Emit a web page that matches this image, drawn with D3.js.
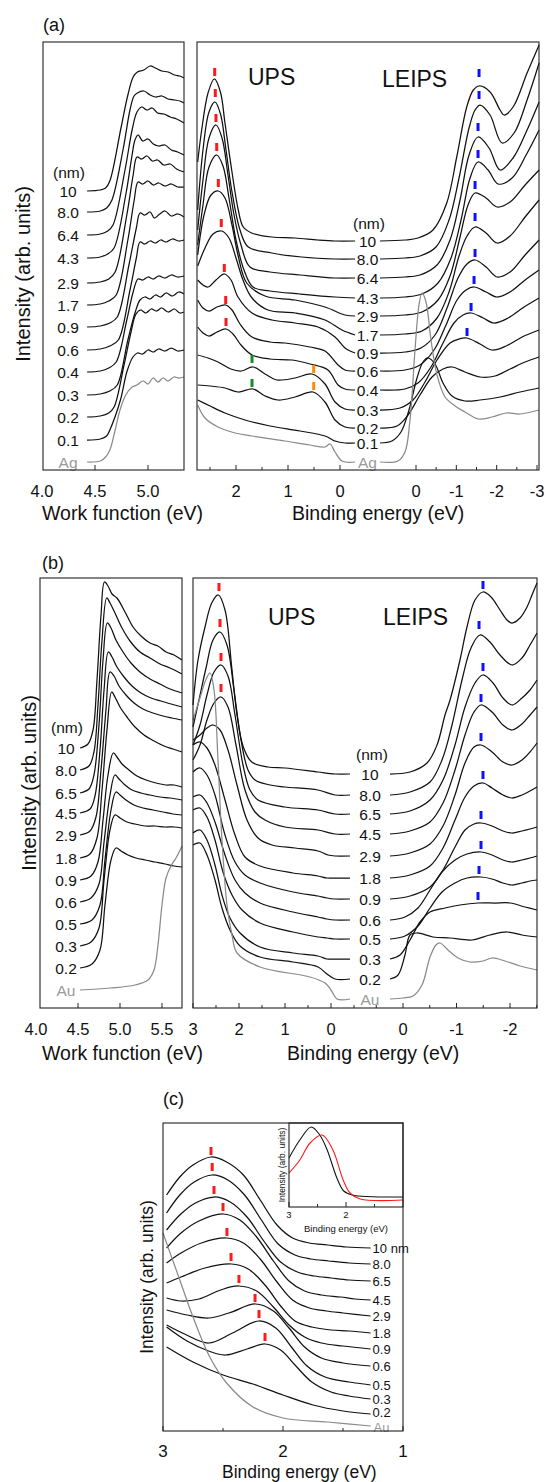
<!DOCTYPE html>
<html>
<head>
<meta charset="utf-8">
<script src="https://cdn.jsdelivr.net/npm/d3@7"></script>
<style>
body { margin: 0; background: #fff; }
text { font-family: "Liberation Sans", Arial, Helvetica, sans-serif; fill: #111; }
</style>
</head>
<body>
<svg id="fig" width="549" height="1482"></svg>
<script>
// ================= data =================
// film thickness labels (nm)
var aLabels = ["10", "8.0", "6.4", "4.3", "2.9", "1.7", "0.9", "0.6", "0.4", "0.3", "0.2", "0.1"];
var bLabels = ["10", "8.0", "6.5", "4.5", "2.9", "1.8", "0.9", "0.6", "0.5", "0.3", "0.2"];
var cLabels = ["10 nm", "8.0", "6.5", "4.5", "2.9", "1.8", "0.9", "0.6", "0.5", "0.3", "0.2"];

// (a) secondary cutoff, [work function eV, intensity]
var aWfCurves = [
  [[4.425,27.9],[4.55,28.0],[4.60,28.2],[4.64,28.9],[4.745,34.2],[4.81,37.5],[4.86,39.3],[4.90,39.8],[4.96,40.0],[5.02,40.4],[5.07,40.2],[5.13,39.9],[5.19,39.8],[5.25,39.5],[5.30,39.4],[5.34,39.2]],
  [[4.425,25.8],[4.55,25.9],[4.61,26.2],[4.66,27.0],[4.764,32.0],[4.83,36.0],[4.868,37.4],[4.90,37.7],[4.96,37.9],[5.02,37.5],[5.07,37.3],[5.13,37.4],[5.19,37.1],[5.25,37.0],[5.30,36.9],[5.34,36.7]],
  [[4.425,23.5],[4.55,23.6],[4.62,23.9],[4.67,24.5],[4.783,30.0],[4.85,34.0],[4.896,35.8],[4.94,36.3],[4.99,36.0],[5.04,36.2],[5.09,35.7],[5.15,35.6],[5.21,35.3],[5.27,35.1],[5.34,34.7]],
  [[4.425,21.2],[4.55,21.3],[4.62,21.6],[4.68,22.2],[4.79,27.5],[4.85,31.5],[4.877,33.0],[4.906,33.5],[4.95,32.9],[5.00,33.1],[5.05,32.6],[5.10,32.4],[5.16,32.5],[5.22,32.0],[5.28,31.8],[5.34,31.5]],
  [[4.425,18.7],[4.55,18.8],[4.63,19.1],[4.69,19.8],[4.80,25.5],[4.86,29.5],[4.896,31.3],[4.94,31.1],[4.99,31.4],[5.04,30.9],[5.09,31.0],[5.15,30.5],[5.21,30.6],[5.27,30.1],[5.34,29.8]],
  [[4.425,16.5],[4.55,16.6],[4.63,16.9],[4.70,17.5],[4.81,23.0],[4.87,27.0],[4.906,28.8],[4.95,28.6],[5.00,28.9],[5.05,28.5],[5.10,28.7],[5.16,28.4],[5.22,28.6],[5.28,28.3],[5.34,28.3]],
  [[4.425,14.3],[4.55,14.4],[4.64,14.7],[4.71,15.3],[4.82,20.5],[4.89,24.2],[4.925,25.7],[4.97,25.5],[5.02,25.8],[5.06,25.2],[5.11,25.6],[5.16,25.9],[5.22,25.4],[5.28,25.6],[5.34,25.3]],
  [[4.425,12.0],[4.55,12.1],[4.64,12.4],[4.72,13.0],[4.83,18.0],[4.89,21.2],[4.925,22.8],[4.97,22.6],[5.02,22.9],[5.07,22.7],[5.12,23.0],[5.17,22.8],[5.23,23.1],[5.29,22.9],[5.34,23.0]],
  [[4.425,9.8],[4.55,9.9],[4.63,10.2],[4.70,10.8],[4.80,15.0],[4.86,17.8],[4.906,19.1],[4.95,19.0],[5.00,19.3],[5.05,19.1],[5.10,19.4],[5.16,19.2],[5.22,19.5],[5.28,19.3],[5.34,19.4]],
  [[4.425,7.5],[4.55,7.6],[4.64,7.9],[4.71,8.5],[4.81,13.0],[4.88,15.8],[4.925,17.0],[4.97,17.3],[5.02,17.1],[5.07,17.5],[5.12,17.3],[5.17,17.7],[5.23,17.4],[5.29,17.8],[5.34,17.6]],
  [[4.425,5.3],[4.55,5.4],[4.63,5.7],[4.68,6.3],[4.774,10.5],[4.84,13.8],[4.887,15.6],[4.93,16.0],[4.98,15.7],[5.03,16.1],[5.08,15.9],[5.13,16.2],[5.19,15.8],[5.25,16.1],[5.30,15.7],[5.34,15.8]],
  [[4.425,3.0],[4.55,3.1],[4.61,3.4],[4.64,4.0],[4.74,7.0],[4.80,9.8],[4.858,11.3],[4.90,11.7],[4.95,11.6],[5.00,12.0],[5.05,11.8],[5.10,12.1],[5.16,11.9],[5.22,12.2],[5.28,11.9],[5.34,12.0]]
];
var aWfAg = [[4.425,0.8],[4.55,0.9],[4.60,1.3],[4.64,2.0],[4.69,4.0],[4.736,6.0],[4.79,7.5],[4.85,8.3],[4.896,8.5],[4.953,8.9],[5.0,8.6],[5.047,9.2],[5.094,8.8],[5.142,9.2],[5.189,8.9],[5.245,9.3],[5.292,9.2],[5.34,9.3]];

// (a) UPS, [binding energy eV, intensity]
var aUpsCurves = [
  [[2.737,30.8],[2.66,34.0],[2.538,37.7],[2.417,39.1],[2.30,37.8],[2.212,34.7],[2.083,30.0],[1.956,26.0],[1.86,24.3],[1.698,23.7],[1.313,23.3],[0.865,23.2],[0.423,23.0],[0.096,22.9],[-0.29,22.9]],
  [[2.737,26.0],[2.635,32.0],[2.519,35.8],[2.404,36.8],[2.298,35.6],[2.192,32.0],[2.083,28.0],[1.923,24.0],[1.763,22.3],[1.313,21.7],[0.737,21.3],[0.096,21.1],[-0.29,21.1]],
  [[2.737,24.0],[2.635,29.0],[2.519,33.2],[2.385,34.5],[2.269,33.2],[2.154,29.5],[2.038,25.5],[1.904,22.5],[1.731,20.3],[1.346,19.8],[0.769,19.5],[0.096,19.2],[-0.29,19.2]],
  [[2.737,22.5],[2.635,26.5],[2.519,30.3],[2.371,31.5],[2.25,30.4],[2.135,27.2],[2.0,23.0],[1.846,20.0],[1.673,18.3],[1.346,17.9],[0.769,17.6],[0.096,17.3],[-0.29,17.2]],
  [[2.737,21.5],[2.615,25.5],[2.481,27.5],[2.34,27.9],[2.212,27.2],[2.077,24.5],[1.962,21.5],[1.794,18.7],[1.442,17.4],[0.865,17.0],[0.288,16.3],[-0.096,15.5],[-0.29,15.4]],
  [[2.737,20.4],[2.596,22.2],[2.442,23.6],[2.275,23.9],[2.135,23.2],[2.0,21.2],[1.865,19.0],[1.692,17.2],[1.385,16.0],[0.865,15.7],[0.288,15.0],[-0.038,14.0],[-0.29,13.5]],
  [[2.737,19.0],[2.635,18.5],[2.538,18.3],[2.385,19.0],[2.221,19.6],[2.096,19.0],[1.962,17.3],[1.692,15.7],[1.308,15.0],[0.865,14.7],[0.423,14.3],[0.096,13.3],[-0.096,12.2],[-0.29,11.7]],
  [[2.737,17.0],[2.635,16.2],[2.519,15.9],[2.365,16.3],[2.198,16.5],[2.077,16.0],[1.923,14.6],[1.692,13.3],[1.346,12.8],[1.058,12.7],[0.577,12.3],[0.288,11.9],[0.038,10.5],[-0.096,10.0],[-0.29,9.9]],
  [[2.737,14.3],[2.635,13.7],[2.519,13.4],[2.365,13.8],[2.192,14.1],[2.058,13.6],[1.904,12.5],[1.692,11.5],[1.346,11.1],[0.923,11.0],[0.577,10.6],[0.231,10.0],[0.038,8.5],[-0.096,8.1],[-0.29,8.0]],
  [[2.737,11.5],[2.538,11.2],[2.346,10.8],[2.10,10.1],[1.90,9.9],[1.673,10.3],[1.442,9.6],[1.212,9.0],[0.865,9.2],[0.538,9.6],[0.288,8.6],[0.096,6.8],[-0.096,6.1],[-0.29,6.0]],
  [[2.737,8.5],[2.50,8.4],[2.212,8.2],[1.96,7.8],[1.673,8.1],[1.442,7.4],[1.192,7.0],[0.865,7.3],[0.519,7.8],[0.288,6.8],[0.096,5.0],[-0.096,4.3],[-0.29,4.2]],
  [[2.737,7.0],[2.50,6.4],[2.212,5.7],[1.827,5.0],[1.346,4.4],[0.769,3.9],[0.288,3.4],[0.096,2.9],[-0.096,2.7],[-0.29,2.7]]
];
var aUpsAg = [[2.737,6.5],[2.596,5.2],[2.346,4.3],[2.019,3.7],[1.692,3.4],[1.058,2.9],[0.577,2.5],[0.288,2.3],[0.192,2.6],[0.096,1.8],[-0.038,0.9],[-0.29,0.8]];
var aRedE = [2.41, 2.398, 2.385, 2.371, 2.34, 2.283, 2.225, 2.198, 2.192];
var aRedI = [39.8, 37.7, 35.2, 32.3, 28.7, 24.7, 20.2, 17.0, 14.8];
var aGreenE = [1.692, 1.692], aGreenI = [11.1, 8.7];
var aOrangeE = [0.506, 0.506], aOrangeI = [10.1, 8.4];

// (a) LEIPS
var aLeiCurves = [
  [[0.893,22.9],[0.273,23.0],[-0.05,23.2],[-0.422,24.0],[-0.762,26.7],[-1.01,31.3],[-1.258,36.3],[-1.422,38.0],[-1.571,38.4],[-1.836,37.8],[-2.084,36.0],[-2.184,35.5],[-2.407,36.3],[-2.754,39.7],[-3.052,42.5]],
  [[0.893,21.1],[0.273,21.2],[-0.099,21.4],[-0.496,22.3],[-0.819,25.0],[-1.067,29.2],[-1.315,34.2],[-1.464,36.0],[-1.588,36.5],[-1.836,35.5],[-2.134,32.7],[-2.432,33.7],[-2.754,37.0],[-3.052,40.7]],
  [[0.893,19.2],[0.273,19.3],[-0.099,19.5],[-0.521,20.5],[-0.844,23.0],[-1.092,27.0],[-1.315,31.5],[-1.538,33.3],[-1.811,32.2],[-2.084,30.0],[-2.407,31.2],[-2.754,34.0],[-3.052,36.8]],
  [[0.893,17.2],[0.273,17.3],[-0.149,17.6],[-0.546,18.7],[-0.868,21.2],[-1.117,25.0],[-1.34,29.2],[-1.538,30.8],[-1.787,30.0],[-2.035,28.6],[-2.382,29.2],[-2.73,31.5],[-3.052,34.0]],
  [[0.893,15.4],[0.273,15.5],[-0.149,15.8],[-0.546,17.0],[-0.844,19.4],[-1.092,23.3],[-1.29,26.5],[-1.464,27.7],[-1.737,27.2],[-2.01,26.3],[-2.333,26.8],[-2.705,28.5],[-3.052,30.0]],
  [[0.893,13.5],[0.273,13.6],[-0.149,13.9],[-0.521,15.2],[-0.819,17.8],[-1.067,21.4],[-1.265,23.4],[-1.464,24.3],[-1.737,23.7],[-2.01,22.7],[-2.333,23.4],[-2.705,25.3],[-3.052,27.0]],
  [[0.893,11.7],[0.273,11.8],[-0.124,12.2],[-0.471,13.5],[-0.769,16.2],[-1.042,19.2],[-1.265,20.6],[-1.464,21.0],[-1.737,20.3],[-2.01,19.3],[-2.333,19.8],[-2.705,21.5],[-3.052,23.0]],
  [[0.893,9.9],[0.273,10.0],[-0.099,10.5],[-0.447,12.0],[-0.744,14.5],[-1.017,17.0],[-1.241,18.0],[-1.439,18.3],[-1.737,17.8],[-2.01,17.3],[-2.333,17.8],[-2.705,19.0],[-3.052,20.0]],
  [[0.893,8.0],[0.273,8.1],[-0.05,8.7],[-0.372,10.3],[-0.67,12.7],[-0.943,14.7],[-1.166,15.5],[-1.365,15.7],[-1.663,15.2],[-1.935,14.7],[-2.283,15.2],[-2.68,16.3],[-3.052,17.2]],
  [[0.893,6.0],[0.397,6.2],[0.074,7.0],[-0.223,8.8],[-0.521,11.0],[-0.844,12.7],[-1.067,13.1],[-1.265,13.2],[-1.588,12.6],[-1.886,12.0],[-2.233,12.4],[-2.63,13.3],[-3.052,14.0]],
  [[0.893,4.2],[0.471,4.4],[0.199,5.5],[-0.099,7.5],[-0.397,9.3],[-0.67,10.1],[-0.893,10.3],[-1.216,9.8],[-1.588,9.3],[-1.96,9.4],[-2.333,10.1],[-2.705,10.8],[-3.052,11.3]],
  [[0.893,2.7],[0.596,2.9],[0.372,3.8],[0.174,6.0],[-0.025,9.2],[-0.174,10.8],[-0.298,11.2],[-0.471,10.6],[-0.67,8.7],[-0.893,7.4],[-1.216,6.9],[-1.588,7.0],[-2.084,7.3],[-2.581,7.8],[-3.052,8.2]]
];
var aLeiAg = [[0.893,0.8],[0.447,0.9],[0.273,1.8],[0.149,5.0],[0.025,12.0],[-0.074,16.5],[-0.149,17.7],[-0.248,16.8],[-0.372,13.0],[-0.521,9.5],[-0.72,7.3],[-0.968,6.4],[-1.216,5.8],[-1.538,5.1],[-1.886,5.3],[-2.233,5.7],[-2.581,5.6],[-3.052,6.0]];
var aBlueE = [-1.563, -1.563, -1.538, -1.538, -1.464, -1.464, -1.464, -1.439, -1.365, -1.265];
var aBlueI = [39.7, 37.5, 34.3, 31.6, 28.5, 25.3, 21.7, 19.0, 16.3, 13.8];

// (b) secondary cutoff
var bWfCurves = [
  [[4.524,26.0],[4.619,26.4],[4.679,27.8],[4.726,32.8],[4.774,39.3],[4.815,42.6],[4.857,42.2],[4.905,41.4],[4.964,41.0],[5.06,39.6],[5.155,38.1],[5.25,37.2],[5.357,36.5],[5.452,36.2],[5.548,35.6],[5.643,35.3],[5.738,34.8]],
  [[4.524,23.8],[4.631,24.2],[4.69,25.6],[4.738,30.3],[4.786,36.8],[4.842,41.0],[4.881,40.5],[4.94,39.5],[5.024,38.0],[5.119,36.7],[5.238,35.6],[5.357,35.0],[5.476,34.4],[5.595,34.0],[5.738,33.4]],
  [[4.524,21.5],[4.631,21.9],[4.69,23.3],[4.75,28.3],[4.798,34.8],[4.849,38.5],[4.893,38.0],[4.952,36.8],[5.036,35.6],[5.131,34.5],[5.238,33.6],[5.357,32.9],[5.476,32.4],[5.595,31.9],[5.738,31.5]],
  [[4.524,19.5],[4.643,19.9],[4.702,21.2],[4.762,25.8],[4.81,31.8],[4.861,35.6],[4.905,35.1],[4.964,34.1],[5.048,33.1],[5.143,32.2],[5.25,31.5],[5.369,31.0],[5.488,30.7],[5.607,30.4],[5.738,30.1]],
  [[4.524,17.3],[4.643,17.7],[4.714,19.1],[4.774,23.8],[4.833,29.8],[4.881,33.6],[4.929,33.2],[4.988,32.2],[5.071,31.3],[5.167,30.5],[5.274,29.9],[5.393,29.5],[5.512,29.2],[5.619,29.0],[5.738,28.8]],
  [[4.524,15.0],[4.643,15.4],[4.726,17.0],[4.786,21.8],[4.845,27.8],[4.901,31.6],[4.94,31.1],[5.0,30.1],[5.083,29.1],[5.179,28.1],[5.286,27.3],[5.405,26.7],[5.524,26.2],[5.631,25.9],[5.738,25.6]],
  [[4.524,12.8],[4.655,13.2],[4.738,14.6],[4.798,18.8],[4.857,23.3],[4.92,25.5],[4.964,25.1],[5.024,24.4],[5.107,23.8],[5.202,23.2],[5.31,22.8],[5.429,22.5],[5.548,22.3],[5.643,22.3],[5.738,22.1]],
  [[4.524,10.6],[4.655,11.0],[4.75,12.4],[4.81,16.6],[4.881,21.3],[4.94,23.3],[4.988,22.9],[5.06,22.3],[5.143,21.8],[5.25,21.5],[5.357,21.3],[5.476,21.1],[5.595,21.0],[5.738,20.8]],
  [[4.524,8.4],[4.667,8.8],[4.762,10.3],[4.821,14.8],[4.893,19.8],[4.952,21.6],[5.0,21.3],[5.071,20.8],[5.167,20.3],[5.274,20.0],[5.393,19.8],[5.512,19.6],[5.631,19.4],[5.738,19.3]],
  [[4.524,6.2],[4.655,6.6],[4.75,8.0],[4.81,12.8],[4.881,17.8],[4.94,19.3],[5.0,19.0],[5.083,18.6],[5.179,18.4],[5.298,18.2],[5.417,18.2],[5.536,18.1],[5.643,18.1],[5.738,18.0]],
  [[4.524,4.0],[4.667,4.4],[4.762,5.8],[4.821,10.3],[4.893,14.8],[4.952,16.0],[5.012,15.7],[5.095,15.3],[5.19,15.0],[5.298,14.8],[5.417,14.6],[5.536,14.4],[5.643,14.2],[5.738,14.1]]
];
var bWfAu = [[4.524,1.8],[4.881,2.0],[5.179,2.3],[5.333,2.8],[5.405,3.8],[5.452,6.3],[5.5,10.3],[5.548,13.0],[5.607,14.2],[5.667,15.0],[5.738,16.2]];

// (b) UPS
var bUpsCurves = [
  [[3.0,30.3],[2.891,34.8],[2.739,38.1],[2.593,40.5],[2.45,41.3],[2.304,39.8],[2.159,34.1],[2.043,29.3],[1.906,26.1],[1.724,24.6],[1.37,24.1],[1.0,24.0],[0.283,23.6],[-0.087,23.4],[-0.413,23.4]],
  [[3.0,28.1],[2.87,30.8],[2.717,34.0],[2.565,36.8],[2.413,37.6],[2.261,36.3],[2.109,31.8],[1.957,26.8],[1.804,23.8],[1.652,22.8],[1.326,22.3],[1.0,22.1],[0.283,21.8],[-0.087,21.3],[-0.413,21.3]],
  [[3.0,26.3],[2.848,28.3],[2.696,31.3],[2.543,33.6],[2.391,34.3],[2.239,33.2],[2.087,29.3],[1.913,24.3],[1.761,21.8],[1.587,20.8],[1.0,20.1],[0.283,19.8],[-0.087,19.4],[-0.413,19.4]],
  [[3.0,24.8],[2.848,26.3],[2.696,28.8],[2.543,30.5],[2.391,31.1],[2.239,30.1],[2.065,26.3],[1.87,21.8],[1.652,19.6],[1.435,18.8],[1.0,18.1],[0.283,17.8],[-0.087,17.4],[-0.413,17.4]],
  [[3.0,26.8],[2.848,27.3],[2.696,28.0],[2.565,28.3],[2.413,27.8],[2.239,25.8],[2.043,22.3],[1.826,18.8],[1.587,17.0],[1.283,16.3],[0.783,16.0],[0.283,15.7],[0.065,15.3],[-0.087,15.2],[-0.413,15.2]],
  [[3.0,26.3],[2.848,26.6],[2.696,26.0],[2.522,24.3],[2.304,20.8],[2.087,17.3],[1.87,15.1],[1.543,14.2],[0.826,13.5],[0.283,13.2],[0.087,13.0],[-0.087,13.0],[-0.413,13.0]],
  [[3.0,23.6],[2.848,24.0],[2.696,23.3],[2.522,21.3],[2.304,17.3],[2.087,14.6],[1.87,13.3],[1.543,12.5],[0.826,11.6],[0.283,11.2],[0.087,11.0],[-0.087,10.9],[-0.413,10.9]],
  [[3.0,21.1],[2.848,21.3],[2.696,20.5],[2.522,18.6],[2.304,15.3],[2.087,12.8],[1.87,11.5],[1.543,10.5],[0.826,9.6],[0.283,9.1],[0.087,8.9],[-0.087,8.8],[-0.413,8.8]],
  [[3.0,19.8],[2.848,20.0],[2.696,19.1],[2.522,16.8],[2.348,13.6],[2.152,11.3],[1.935,9.8],[1.543,8.5],[0.826,7.6],[0.283,7.1],[0.087,7.0],[-0.087,6.9],[-0.413,6.9]],
  [[3.0,17.5],[2.848,17.8],[2.696,16.8],[2.522,14.3],[2.37,11.3],[2.196,9.0],[1.978,7.5],[1.543,6.1],[0.826,5.5],[0.283,5.2],[0.087,4.9],[-0.087,4.9],[-0.413,4.9]],
  [[3.0,16.3],[2.848,16.5],[2.696,15.3],[2.522,12.8],[2.37,10.0],[2.196,7.8],[1.978,6.2],[1.543,5.1],[0.826,4.6],[0.283,4.1],[0.087,3.4],[-0.087,2.9],[-0.413,2.9]]
];
var bUpsAu = [[3.0,28.8],[2.848,31.0],[2.739,32.6],[2.63,33.5],[2.543,31.8],[2.457,24.8],[2.37,16.8],[2.261,10.3],[2.152,7.3],[2.043,5.5],[1.543,4.1],[0.457,3.1],[0.13,2.5],[0,1.8],[-0.13,0.9],[-0.413,0.9]];
var bRedE = [2.435, 2.413, 2.391, 2.391];
var bRedI = [42.1, 38.5, 35.1, 32.0];

// (b) LEIPS
var bLeiCurves = [
  [[0.243,23.4],[-0.131,23.6],[-0.449,24.5],[-0.636,26.3],[-0.785,29.3],[-0.879,30.8],[-1.065,34.8],[-1.196,38.1],[-1.346,40.8],[-1.495,41.6],[-1.645,41.1],[-1.813,39.8],[-1.944,38.8],[-2.037,38.5],[-2.187,39.0],[-2.318,40.1],[-2.411,41.3],[-2.505,42.5]],
  [[0.243,21.3],[-0.131,21.6],[-0.505,22.6],[-0.729,24.8],[-0.916,28.3],[-1.103,32.8],[-1.271,36.0],[-1.439,37.3],[-1.626,36.6],[-1.813,35.3],[-2.037,34.3],[-2.224,35.0],[-2.374,36.3],[-2.505,37.5]],
  [[0.243,19.4],[-0.131,19.7],[-0.505,20.8],[-0.748,22.8],[-0.972,26.3],[-1.159,30.1],[-1.346,32.5],[-1.495,33.3],[-1.682,32.5],[-1.869,31.0],[-2.037,30.3],[-2.224,31.0],[-2.374,31.8],[-2.505,32.8]],
  [[0.243,17.4],[-0.131,17.7],[-0.505,18.6],[-0.748,20.5],[-0.972,23.8],[-1.159,27.3],[-1.327,29.6],[-1.458,30.3],[-1.664,29.6],[-1.869,28.3],[-2.037,27.8],[-2.224,28.4],[-2.374,29.3],[-2.505,30.1]],
  [[0.243,15.2],[-0.131,15.5],[-0.505,16.4],[-0.748,18.2],[-0.972,21.3],[-1.159,24.5],[-1.327,26.1],[-1.458,26.3],[-1.664,25.6],[-1.869,24.6],[-2.037,24.3],[-2.224,24.8],[-2.374,25.6],[-2.505,26.5]],
  [[0.243,13.0],[-0.131,13.3],[-0.505,14.2],[-0.748,16.0],[-0.972,18.8],[-1.159,21.1],[-1.327,22.2],[-1.495,22.5],[-1.664,22.0],[-1.869,21.3],[-2.037,21.0],[-2.224,21.3],[-2.374,21.7],[-2.505,22.1]],
  [[0.243,10.9],[-0.131,11.2],[-0.505,12.1],[-0.748,13.8],[-0.972,16.1],[-1.159,17.8],[-1.327,18.4],[-1.458,18.5],[-1.664,18.2],[-1.869,17.7],[-2.037,17.5],[-2.224,17.7],[-2.374,17.9],[-2.505,18.1]],
  [[0.243,8.8],[-0.037,9.1],[-0.28,10.0],[-0.505,11.8],[-0.729,13.6],[-0.972,14.8],[-1.196,15.4],[-1.458,15.6],[-1.664,15.3],[-1.869,14.8],[-2.037,14.6],[-2.224,14.8],[-2.374,15.0],[-2.505,15.2]],
  [[0.243,6.9],[-0.037,7.2],[-0.28,8.2],[-0.505,10.0],[-0.729,11.6],[-0.972,12.5],[-1.196,13.0],[-1.458,13.1],[-1.664,12.9],[-1.869,12.5],[-2.037,12.3],[-2.224,12.5],[-2.374,12.7],[-2.505,12.8]],
  [[0.243,4.9],[0.056,5.3],[-0.131,6.8],[-0.318,8.6],[-0.505,9.6],[-0.785,10.0],[-1.065,10.3],[-1.402,10.5],[-1.72,10.5],[-2.0,10.5],[-2.28,10.1],[-2.505,9.8]],
  [[0.243,2.9],[0.093,3.3],[-0.037,5.3],[-0.131,7.3],[-0.262,7.5],[-0.561,7.1],[-0.879,7.0],[-1.29,6.8],[-1.626,7.3],[-1.944,7.6],[-2.224,7.3],[-2.505,7.1]]
];
var bLeiAu = [[0.243,0.9],[0,1.0],[-0.187,1.2],[-0.355,2.3],[-0.505,5.1],[-0.617,6.3],[-0.692,6.5],[-0.841,5.8],[-1.028,5.0],[-1.252,4.6],[-1.495,4.7],[-1.664,5.0],[-1.907,4.7],[-2.187,4.2],[-2.505,3.8]];
var bBlueE = [-1.495, -1.421, -1.495, -1.458, -1.458, -1.495, -1.458, -1.458, -1.421, -1.402];
var bBlueI = [42.3, 38.3, 34.1, 31.0, 27.1, 23.3, 19.3, 16.3, 13.8, 11.2];

// (c) UPS on Au
var cCurves = [
  [[2.97,23.6],[2.86,25.4],[2.75,26.6],[2.60,27.4],[2.47,26.9],[2.33,25.6],[2.19,23.1],[2.05,20.6],[1.92,19.3],[1.78,18.8],[1.63,18.6],[1.47,18.4],[1.27,18.3]],
  [[2.97,21.8],[2.86,23.6],[2.74,24.9],[2.59,25.6],[2.46,25.1],[2.32,23.6],[2.18,21.1],[2.04,18.7],[1.90,17.6],[1.77,17.2],[1.62,17.0],[1.45,16.8],[1.27,16.7]],
  [[2.97,20.1],[2.86,21.6],[2.73,22.8],[2.575,23.4],[2.44,22.9],[2.30,21.4],[2.16,19.0],[2.02,16.9],[1.88,15.9],[1.74,15.5],[1.60,15.3],[1.45,15.1],[1.27,15.0]],
  [[2.97,18.3],[2.85,19.8],[2.70,21.0],[2.50,21.7],[2.36,21.1],[2.22,19.4],[2.08,17.0],[1.95,15.0],[1.82,14.0],[1.68,13.6],[1.52,13.4],[1.40,13.2],[1.27,13.1]],
  [[2.97,16.8],[2.85,17.8],[2.68,18.8],[2.47,19.3],[2.33,18.8],[2.19,17.2],[2.05,14.9],[1.92,13.1],[1.78,12.3],[1.64,12.0],[1.50,11.8],[1.27,11.5]],
  [[2.97,14.8],[2.85,15.4],[2.65,16.3],[2.43,16.7],[2.29,16.2],[2.15,14.6],[2.02,12.5],[1.90,11.0],[1.76,10.4],[1.60,10.1],[1.45,10.0],[1.27,9.8]],
  [[2.97,13.3],[2.85,13.0],[2.70,13.2],[2.52,14.1],[2.37,14.5],[2.22,14.0],[2.08,12.4],[1.95,10.6],[1.82,9.4],[1.68,8.8],[1.50,8.5],[1.27,8.2]],
  [[2.97,12.1],[2.80,11.6],[2.62,11.3],[2.45,11.8],[2.23,12.7],[2.08,12.0],[1.95,10.3],[1.82,8.4],[1.68,7.3],[1.50,6.8],[1.27,6.5]],
  [[2.97,10.6],[2.82,9.7],[2.62,8.8],[2.42,9.8],[2.20,11.0],[2.06,10.3],[1.93,8.4],[1.80,6.5],[1.65,5.4],[1.45,4.9],[1.27,4.6]],
  [[2.97,10.4],[2.80,9.0],[2.62,8.0],[2.48,7.6],[2.30,8.2],[2.15,8.7],[2.02,8.1],[1.90,6.6],[1.76,4.9],[1.60,3.9],[1.45,3.5],[1.27,3.2]],
  [[2.97,8.4],[2.75,6.9],[2.50,5.6],[2.25,4.7],[2.00,3.6],[1.75,2.6],[1.50,2.0],[1.27,1.7]]
];
var cAu = [[3.0,19.8],[2.86,15.1],[2.75,11.4],[2.61,7.4],[2.47,4.8],[2.25,2.4],[2.0,1.3],[1.63,0.9],[1.27,0.5]];
var cRedE = [2.60, 2.59, 2.575, 2.50, 2.467, 2.433, 2.367, 2.233, 2.20, 2.15];
var cRedI = [28.0, 26.4, 24.1, 22.4, 19.9, 17.4, 15.2, 13.3, 11.7, 9.4];
var insetBlack = [[3.0,4.9],[2.81,6.7],[2.61,8.0],[2.46,7.2],[2.33,5.7],[2.16,2.9],[2.04,1.6],[1.89,1.2],[1.0,1.0]];
var insetRed = [[3.0,3.4],[2.81,4.7],[2.63,6.4],[2.42,7.2],[2.23,5.7],[2.05,2.7],[1.93,1.4],[1.75,0.8],[1.0,0.7]];

// ================= drawing =================
var svg = d3.select("#fig");
var INK = "#111", GRAY = "#8a8a8a", LGRAY = "#9a9a9a";
var RED = "#ff1a1a", BLUE = "#1010ff", GREEN = "#1a8a2a", ORANGE = "#ff8c00";

function frame(x0, x1, y0, y1) {
  svg.append("rect").attr("x", x0).attr("y", y0).attr("width", x1 - x0).attr("height", y1 - y0)
    .attr("fill", "none").attr("stroke", "#222").attr("stroke-width", 1.1);
}
function text(x, y, s, fs, anchor, color) {
  return svg.append("text").attr("x", x).attr("y", y).attr("font-size", fs)
    .attr("text-anchor", anchor || "start").style("fill", color || INK).text(s);
}
function ylabel(x, y, fs) {
  svg.append("text").attr("transform", "translate(" + x + "," + y + ") rotate(-90)")
    .attr("text-anchor", "middle").attr("font-size", fs).text("Intensity (arb. units)");
}
// inward ticks on a bottom axis; labels only for majors
function ticks(scale, majors, minors, yb, fs, dy, fmt, lo, hi) {
  majors.forEach(function (v) {
    var x = scale(v);
    if (x >= lo && x <= hi) {
      svg.append("line").attr("x1", x).attr("x2", x).attr("y1", yb).attr("y2", yb - 5)
        .attr("stroke", "#222").attr("stroke-width", 1);
    }
    text(x, yb + dy, fmt(v), fs, "middle");
  });
  minors.forEach(function (v) {
    var x = scale(v);
    svg.append("line").attr("x1", x).attr("x2", x).attr("y1", yb).attr("y2", yb - 3)
      .attr("stroke", "#222").attr("stroke-width", 1);
  });
}
function curve(xs, ys, pts, color, w) {
  var line = d3.line().x(function (d) { return xs(d[0]); }).y(function (d) { return ys(d[1]); })
    .curve(d3.curveCatmullRom.alpha(0.5));
  svg.append("path").attr("d", line(pts)).attr("fill", "none")
    .attr("stroke", color).attr("stroke-width", w || 1.25).attr("stroke-linejoin", "round");
}
function marks(xs, ys, es, is, color) {
  es.forEach(function (e, i) {
    svg.append("rect").attr("x", xs(e) - 1.5).attr("y", ys(is[i]) - 4)
      .attr("width", 3).attr("height", 8).attr("fill", color);
  });
}
var f1 = d3.format(".1f");
// plain hyphen for negatives, as in the original figure
var fInt = function (v) { return (v < 0 ? "-" : "") + Math.abs(v); };

// ---------------- panel (a) ----------------
var aTop = 42, aBot = 470;
var aY = d3.scaleLinear().domain([0, 42.8]).range([aBot, aTop]);
var aWf = d3.scaleLinear().domain([4, 5]).range([42, 148]);
var aUps = d3.scaleLinear().domain([2, 0]).range([236, 340]);
var aLei = d3.scaleLinear().domain([0, -3]).range([416, 537]);

text(43, 31, "(a)", 18);
ylabel(30, 274, 20);
aWfCurves.forEach(function (pts, i) {
  curve(aWf, aY, pts, INK);
  text(aWf(pts[0][0]) - 19, aY(pts[0][1]) + 5.5, aLabels[i], 15.5, "middle");
});
curve(aWf, aY, aWfAg, GRAY);
text(aWf(aWfAg[0][0]) - 19, aY(aWfAg[0][1]) + 5.5, "Ag", 15.5, "middle", LGRAY);
text(69, 178, "(nm)", 15.5, "middle");

aUpsCurves.forEach(function (pts, i) {
  curve(aUps, aY, pts, INK);
  var end = pts[pts.length - 1], lead = aLeiCurves[i][0];
  text((aUps(end[0]) + aLei(lead[0])) / 2, aY(end[1]) + 5.5, aLabels[i], 15.5, "middle");
});
aLeiCurves.forEach(function (pts) { curve(aLei, aY, pts, INK); });
curve(aUps, aY, aUpsAg, GRAY);
curve(aLei, aY, aLeiAg, GRAY);
text((aUps(-0.29) + aLei(0.893)) / 2, aY(0.8) + 5.5, "Ag", 15.5, "middle", LGRAY);
text(369, 229, "(nm)", 15.5, "middle");
marks(aUps, aY, aRedE, aRedI, RED);
marks(aUps, aY, aGreenE, aGreenI, GREEN);
marks(aUps, aY, aOrangeE, aOrangeI, ORANGE);
marks(aLei, aY, aBlueE, aBlueI, BLUE);
text(248, 85, "UPS", 23);
text(382, 87, "LEIPS", 23);
frame(43, 184, aTop, aBot);
frame(197, 539, aTop, aBot);
ticks(aWf, [4, 4.5, 5], [], aBot, 16.5, 27, f1, 43, 184);
ticks(aUps, [2, 1, 0], [2.5, 1.5, 0.5], aBot, 16.5, 27, fInt, 197, 539);
ticks(aLei, [0, -1, -2, -3], [-0.5, -1.5, -2.5], aBot, 16.5, 27, fInt, 197, 539);
text(42, 520, "Work function (eV)", 19.5);
text(292, 520, "Binding energy (eV)", 19.5);

// ---------------- panel (b) ----------------
var bTop = 578, bBot = 1008;
var bY = d3.scaleLinear().domain([0, 43]).range([bBot, bTop]);
var bWf = d3.scaleLinear().domain([4, 5.5]).range([36, 162]);
var bUps = d3.scaleLinear().domain([3, 0]).range([193, 331]);
var bLei = d3.scaleLinear().domain([0, -2]).range([403, 510]);

text(42, 569, "(b)", 18);
ylabel(36, 783, 20);
bWfCurves.forEach(function (pts, i) {
  curve(bWf, bY, pts, INK);
  text(bWf(pts[0][0]) - 14, bY(pts[0][1]) + 5.5, bLabels[i], 15.5, "middle");
});
curve(bWf, bY, bWfAu, GRAY);
text(bWf(bWfAu[0][0]) - 14, bY(bWfAu[0][1]) + 5.5, "Au", 15.5, "middle", LGRAY);
text(67, 733, "(nm)", 15.5, "middle");

bUpsCurves.forEach(function (pts, i) {
  curve(bUps, bY, pts, INK);
  var end = pts[pts.length - 1], lead = bLeiCurves[i][0];
  text((bUps(end[0]) + bLei(lead[0])) / 2, bY(end[1]) + 5.5, bLabels[i], 15.5, "middle");
});
bLeiCurves.forEach(function (pts) { curve(bLei, bY, pts, INK); });
curve(bUps, bY, bUpsAu, GRAY);
curve(bLei, bY, bLeiAu, GRAY);
text((bUps(-0.413) + bLei(0.243)) / 2, bY(0.9) + 5.5, "Au", 15.5, "middle", LGRAY);
text(372, 760, "(nm)", 15.5, "middle");
marks(bUps, bY, bRedE, bRedI, RED);
marks(bLei, bY, bBlueE, bBlueI, BLUE);
text(268, 625, "UPS", 23);
text(383, 625, "LEIPS", 23);
frame(40, 182, bTop, bBot);
frame(193, 537, bTop, bBot);
ticks(bWf, [4, 4.5, 5, 5.5], [], bBot, 16.5, 27, f1, 40, 182);
ticks(bUps, [3, 2, 1, 0], [2.5, 1.5, 0.5, -0.5], bBot, 16.5, 27, fInt, 193, 537);
ticks(bLei, [0, -1, -2], [0.5, -0.5, -1.5, -2.5], bBot, 16.5, 27, fInt, 193, 537);
text(42, 1060, "Work function (eV)", 19.5);
text(287, 1060, "Binding energy (eV)", 19.5);

// ---------------- panel (c) ----------------
var cx = d3.scaleLinear().domain([3, 1]).range([163, 403]);
var cy = d3.scaleLinear().domain([0, 30.8]).range([1431, 1123]);
text(163, 1105, "(c)", 18);
ylabel(153, 1277, 17.5);
cCurves.forEach(function (pts, i) {
  curve(cx, cy, pts, INK);
  var last = pts[pts.length - 1];
  var dy = i === cCurves.length - 1 ? 3 : 4.5;
  text(cx(last[0]) + 2, cy(last[1]) + dy, cLabels[i], 13);
});
curve(cx, cy, cAu, GRAY);
text(cx(1.27) + 3, cy(0.5) + 5.5, "Au", 13, "start", LGRAY);
marks(cx, cy, cRedE, cRedI, RED);
// inset
var ix = d3.scaleLinear().domain([3, 1]).range([289, 403]);
var iy = d3.scaleLinear().domain([0, 8.4]).range([1207, 1123]);
svg.append("rect").attr("x", 289).attr("y", 1123).attr("width", 114).attr("height", 84).attr("fill", "#fff");
curve(ix, iy, insetBlack, INK, 1.1);
curve(ix, iy, insetRed, RED, 1.1);
frame(289, 403, 1123, 1207);
ticks(ix, [3, 2], [2.5, 1.5], 1207, 9.5, 11, fInt, 289, 403);
text(346, 1232, "Binding energy (eV)", 9.5, "middle");
svg.append("text").attr("transform", "translate(285,1165) rotate(-90)")
  .attr("text-anchor", "middle").attr("font-size", 8.5).text("Intensity (arb. units)");
frame(163, 403, 1123, 1431);
ticks(cx, [3, 2, 1], [2.5, 1.5], 1431, 17, 26, fInt, 163, 403);
text(222, 1478, "Binding energy (eV)", 17.5);
</script>
</body>
</html>
